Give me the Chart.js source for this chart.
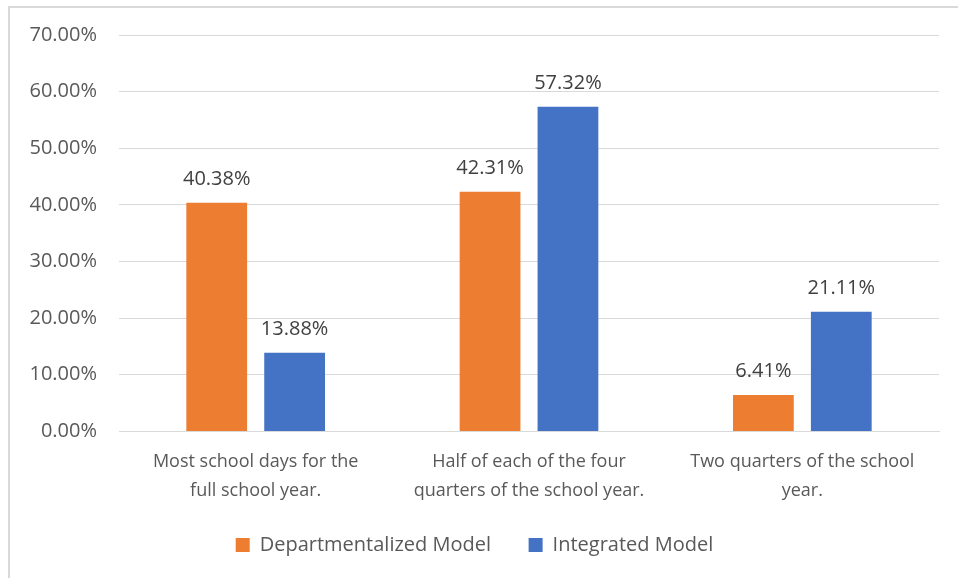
<!DOCTYPE html>
<html>
<head>
<meta charset="utf-8">
<script src="https://cdn.jsdelivr.net/npm/chart.js@4/dist/chart.umd.min.js"></script>
<style>
  body { margin: 0; background: #fff; overflow: hidden; }
  .chartBox {
    position: absolute;
    left: 8px;
    top: 6px;
    width: 950px;
    height: 572px;
    border-left: 2px solid #d9d9d9;
    border-top: 2px solid #d9d9d9;
  }
  #chart { display: block; margin-top: -7px; }
</style>
</head>
<body>
<div class="chartBox"><canvas id="chart" width="950" height="566"></canvas></div>
<script>
const categories = [
  ["Most school days for the", "full school year."],
  ["Half of each of the four", "quarters of the school year."],
  ["Two quarters of the school", "year."],
];
const departmentalized = [40.38, 42.31, 6.41];
const integrated = [13.88, 57.32, 21.11];
const seriesNames = ["Departmentalized Model", "Integrated Model"];

const fontFamily = "'Open Sans', sans-serif";
const textColor = "#595959";

// draws the value above each bar
const barLabels = {
  id: "barLabels",
  afterDatasetsDraw(chart) {
    const ctx = chart.ctx;
    ctx.save();
    ctx.font = `20px ${fontFamily}`;
    ctx.fillStyle = "#404040";
    ctx.textAlign = "center";
    ctx.textBaseline = "alphabetic";
    chart.data.datasets.forEach((ds, i) => {
      chart.getDatasetMeta(i).data.forEach((bar, j) => {
        ctx.fillText(ds.data[j].toFixed(2) + "%", bar.x, bar.y - 18);
      });
    });
    ctx.restore();
  },
};

new Chart(document.getElementById("chart"), {
  type: "bar",
  data: {
    labels: categories,
    datasets: [
      {
        label: seriesNames[0],
        data: departmentalized,
        backgroundColor: "#ED7D31",
        categoryPercentage: 0.57,
        barPercentage: 0.78,
      },
      {
        label: seriesNames[1],
        data: integrated,
        backgroundColor: "#4472C4",
        categoryPercentage: 0.57,
        barPercentage: 0.78,
      },
    ],
  },
  options: {
    responsive: false,
    animation: false,
    layout: {
      padding: { top: 6, right: 21, left: 0, bottom: 2 },
    },
    plugins: {
      tooltip: { enabled: false },
      legend: {
        position: "bottom",
        labels: {
          boxWidth: 14,
          boxHeight: 14,
          padding: 22,
          color: textColor,
          font: { family: fontFamily, size: 20 },
          generateLabels(chart) {
            return Chart.defaults.plugins.legend.labels
              .generateLabels(chart)
              .map((item, i) => {
                // extra space after the first entry, as in the picture
                if (i === 0) item.text = item.text + "   ";
                return item;
              });
          },
        },
      },
    },
    scales: {
      x: {
        grid: { display: false },
        border: { color: "#d9d9d9", width: 1 },
        ticks: {
          color: textColor,
          font: { family: fontFamily, size: 18, lineHeight: 1.6 },
          maxRotation: 0,
          padding: 8,
        },
      },
      y: {
        min: 0,
        max: 70,
        afterFit(scale) {
          scale.width = 109;
        },
        grid: { color: "#d9d9d9", drawTicks: false },
        border: { display: false },
        ticks: {
          stepSize: 10,
          padding: 22,
          color: textColor,
          font: { family: fontFamily, size: 20 },
          callback: (v) => v.toFixed(2) + "%",
        },
      },
    },
  },
  plugins: [barLabels],
});
</script>
</body>
</html>
